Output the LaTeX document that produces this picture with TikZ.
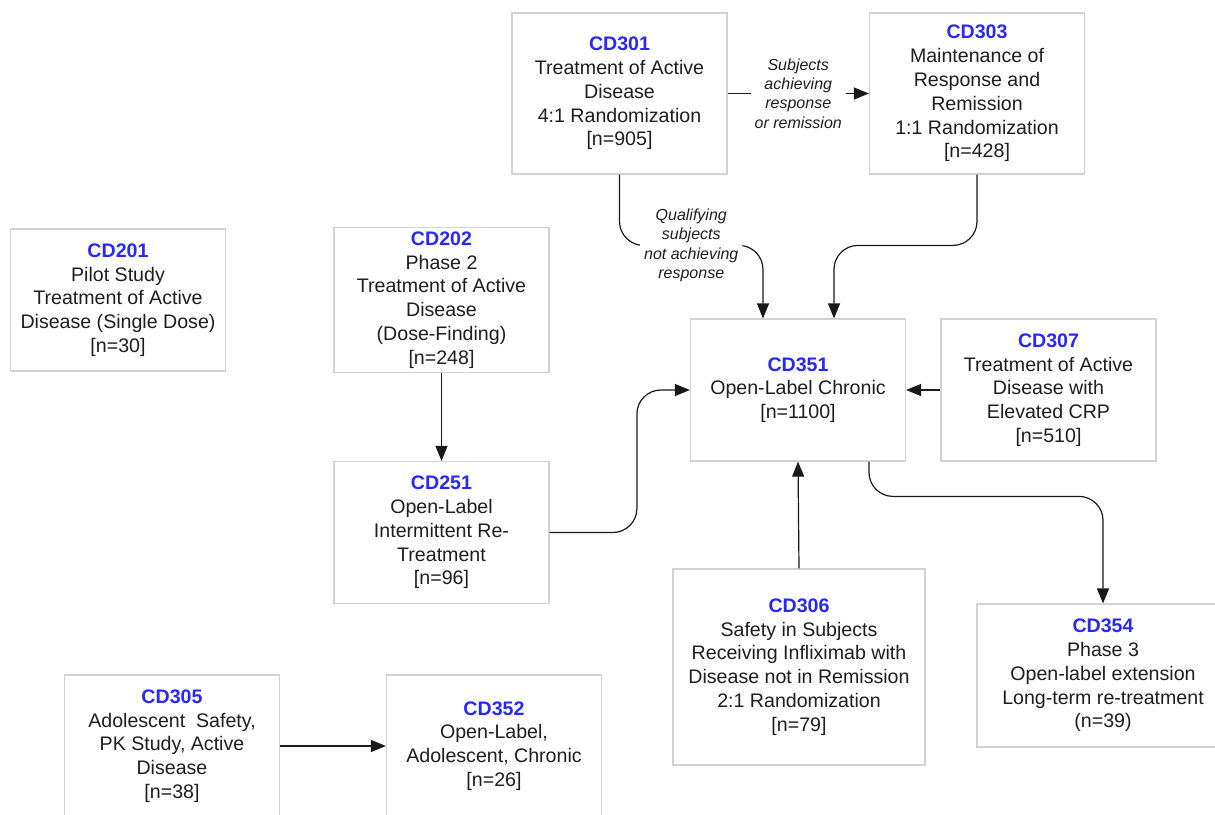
\documentclass[tikz,border=0pt]{standalone}
\usepackage{fontspec}
\setmainfont{Liberation Sans}
\usetikzlibrary{arrows.meta,calc}
\definecolor{cdblue}{RGB}{40,40,250}
\definecolor{boxgray}{RGB}{210,210,210}
\definecolor{inkgray}{RGB}{30,30,30}
\newcommand{\studyid}[1]{\textcolor{cdblue}{\textbf{#1}}}
\tikzset{
  study/.style={draw=boxgray, line width=0.6pt, rectangle, align=center, font=\fontsize{9.8}{11.9}\selectfont, text=inkgray, inner sep=2pt, fill=white, minimum width=107.5pt, minimum height=71pt},
  tallstudy/.style={study, minimum height=80.5pt},
  widestudy/.style={study, minimum width=126pt},
  arr/.style={-{Triangle[length=7.5pt, width=6pt]}, line width=0.6pt, draw=black!90},
  note/.style={font=\fontsize{8}{9.6}\selectfont\itshape, fill=white, inner sep=2pt, align=center, text=inkgray},
}

\begin{document}
\begin{tikzpicture}[x=0.5pt, y=-0.5pt]
\clip (0,0) rectangle (1215,814);
\fill[white] (0,0) rectangle (1215,814);
% studies
\node[tallstudy] (s301) at (619.5,93.5) {\studyid{CD301}\\Treatment of Active\\Disease\\4:1 Randomization\\{[}n=905{]}};
\node[tallstudy] (s303) at (977,93.5) {\studyid{CD303}\\Maintenance of\\Response and\\Remission\\1:1 Randomization\\{[}n=428{]}};
\node[study] (s201) at (118,300) {\studyid{CD201}\\Pilot Study\\Treatment of Active\\Disease (Single Dose)\\{[}n=30{]}};
\node[study] (s202) at (441.5,300) {\studyid{CD202}\\Phase 2\\Treatment of Active\\Disease\\(Dose-Finding)\\{[}n=248{]}};
\node[study] (s351) at (798,390) {\studyid{CD351}\\Open-Label Chronic\\{[}n=1100{]}};
\node[study] (s307) at (1048.5,390) {\studyid{CD307}\\Treatment of Active\\Disease with\\Elevated CRP\\{[}n=510{]}};
\node[study] (s251) at (441.5,532.5) {\studyid{CD251}\\Open-Label\\Intermittent Re-\\Treatment\\{[}n=96{]}};
\node[widestudy, minimum height=98pt] (s306) at (799,667) {\studyid{CD306}\\Safety in Subjects\\Receiving Infliximab with\\Disease not in Remission\\2:1 Randomization\\{[}n=79{]}};
\node[widestudy, minimum height=71.5pt] (s354) at (1103,675.5) {\studyid{CD354}\\Phase 3\\Open-label extension\\Long-term re-treatment\\(n=39)};
\node[study] (s305) at (172,746) {\studyid{CD305}\\Adolescent\ \ Safety,\\PK Study, Active\\Disease\\{[}n=38{]}};
\node[study] (s352) at (494,746) {\studyid{CD352}\\Open-Label,\\Adolescent, Chronic\\{[}n=26{]}};
% hand-offs
\coordinate (q1) at ($(s351.north)+(-35,0)$);
\coordinate (q2) at ($(s351.north)+(36,0)$);
\draw[arr] (s301.east) -- node[note]{Subjects\\achieving\\response\\or remission} (s303.west);
\draw[arr, rounded corners=12pt] (s301.south) |- node[note, pos=0.75]{Qualifying\\subjects\\not achieving\\response} ($(q1)+(0,-73)$) -- (q1);
\draw[arr, rounded corners=12pt] (s303.south) |- ($(q2)+(0,-73)$) -- (q2);
\draw[arr] (s202.south) -- (s251.north);
\draw[arr, rounded corners=12pt] (s251.east) -| ($(s351.west)+(-53,0)$) -- (s351.west);
\draw[arr] (s307.west) -- (s351.east);
\draw[arr] (s306.north) -- (s351.south);
\draw[arr, rounded corners=12pt] ($(s351.south)+(71,0)$) |- ($(s354.north)+(0,-107)$) -- (s354.north);
\draw[arr] (s305.east) -- (s352.west);
\end{tikzpicture}
\end{document}
